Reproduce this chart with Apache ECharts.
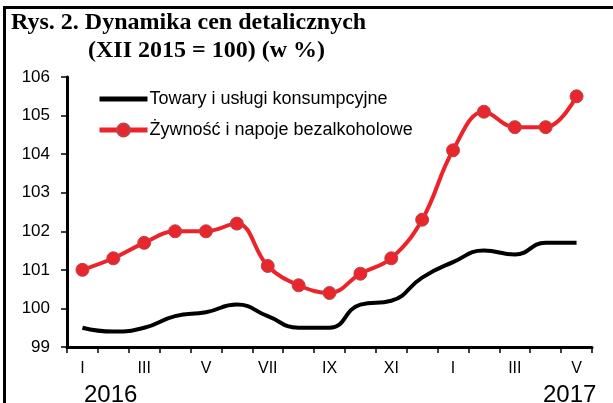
<!DOCTYPE html>
<html>
<head>
<meta charset="utf-8">
<script src="https://cdn.jsdelivr.net/npm/echarts@6/dist/echarts.min.js"></script>
<style>
  html, body { margin: 0; padding: 0; background: #fff; }
  #chart { width: 613px; height: 403px; }
</style>
</head>
<body>
<div id="chart"></div>
<script>
// Months from January 2016 to May 2017
const months = ['I','II','III','IV','V','VI','VII','VIII','IX','X','XI','XII','I','II','III','IV','V'];
const yearLabels = ['2016', '2017'];
const seriesNames = ['Towary i usługi konsumpcyjne', 'Żywność i napoje bezalkoholowe'];

// Price index, December 2015 = 100
const consumerGoods = [99.5, 99.4, 99.5, 99.8, 99.9, 100.1, 99.8, 99.5, 99.5, 100.1, 100.2, 100.8, 101.2, 101.5, 101.4, 101.7, 101.7];
const foodDrinks = [101.0, 101.3, 101.7, 102.0, 102.0, 102.2, 101.1, 100.6, 100.4, 100.9, 101.3, 102.3, 104.1, 105.1, 104.7, 104.7, 105.5];

const chart = echarts.init(document.getElementById('chart'), null, { renderer: 'canvas' });

const sans = 'Liberation Sans, Arial, sans-serif';
const titleStyle = { fontFamily: 'Liberation Serif, Times New Roman, serif', fontWeight: 'bold', fontSize: 24, color: '#000' };

chart.setOption({
  animation: false,
  backgroundColor: '#fff',
  title: [
    { text: 'Rys. 2. Dynamika cen detalicznych', left: 11, top: 11, padding: 0, textStyle: titleStyle },
    { text: '(XII 2015 = 100) (w %)', left: 88, top: 39, padding: 0, textStyle: titleStyle }
  ],
  legend: {
    orient: 'vertical',
    left: 97, top: 90,
    padding: 0,
    itemWidth: 48, itemHeight: 16, itemGap: 13,
    lineStyle: { width: 5 },
    textStyle: { fontFamily: sans, fontSize: 18, color: '#000', padding: [0, 0, 0, -3] },
    data: [
      // plain line key, no marker
      { name: seriesNames[0], itemStyle: { opacity: 0 } },
      { name: seriesNames[1] }
    ]
  },
  grid: { left: 67, right: 21, top: 77, bottom: 56, containLabel: false },
  xAxis: {
    type: 'category',
    data: months,
    boundaryGap: true,
    axisLine: { lineStyle: { color: '#000', width: 3 } },
    axisTick: { show: true, length: 6, interval: 0, lineStyle: { color: '#000', width: 1.5 } },
    axisLabel: { interval: 1, margin: 14, fontFamily: sans, fontSize: 16, color: '#000' },
    splitLine: { show: false }
  },
  yAxis: {
    type: 'value',
    min: 99, max: 106, interval: 1,
    axisLine: { show: true, lineStyle: { color: '#000', width: 3 } },
    axisTick: { show: true, length: 6, lineStyle: { color: '#000', width: 1.5 } },
    axisLabel: { margin: 17, fontFamily: sans, fontSize: 17, color: '#000' },
    splitLine: { show: false }
  },
  series: [
    {
      name: seriesNames[0],
      type: 'line',
      data: consumerGoods,
      smooth: 0.5,
      showSymbol: false,
      symbol: 'none',
      lineStyle: { color: '#000', width: 4 },
      itemStyle: { color: '#000' }
    },
    {
      name: seriesNames[1],
      type: 'line',
      data: foodDrinks,
      smooth: 0.4,
      symbol: 'circle',
      symbolSize: 13,
      lineStyle: { color: '#ee2229', width: 4 },
      itemStyle: { color: '#e8262c', borderColor: '#b8474c', borderWidth: 1 }
    }
  ],
  graphic: [
    // frame lines on the left and top
    { type: 'rect', shape: { x: 3, y: 6, width: 3, height: 397 }, style: { fill: '#000' } },
    { type: 'rect', shape: { x: 3, y: 6, width: 610, height: 3 }, style: { fill: '#000' } },
    {
      type: 'text', left: 84, top: 383,
      style: { text: yearLabels[0], font: '24px "Liberation Sans", Arial, sans-serif', fill: '#000' }
    },
    {
      type: 'text', left: 543, top: 383,
      style: { text: yearLabels[1], font: '24px "Liberation Sans", Arial, sans-serif', fill: '#000' }
    }
  ]
});
</script>
</body>
</html>
